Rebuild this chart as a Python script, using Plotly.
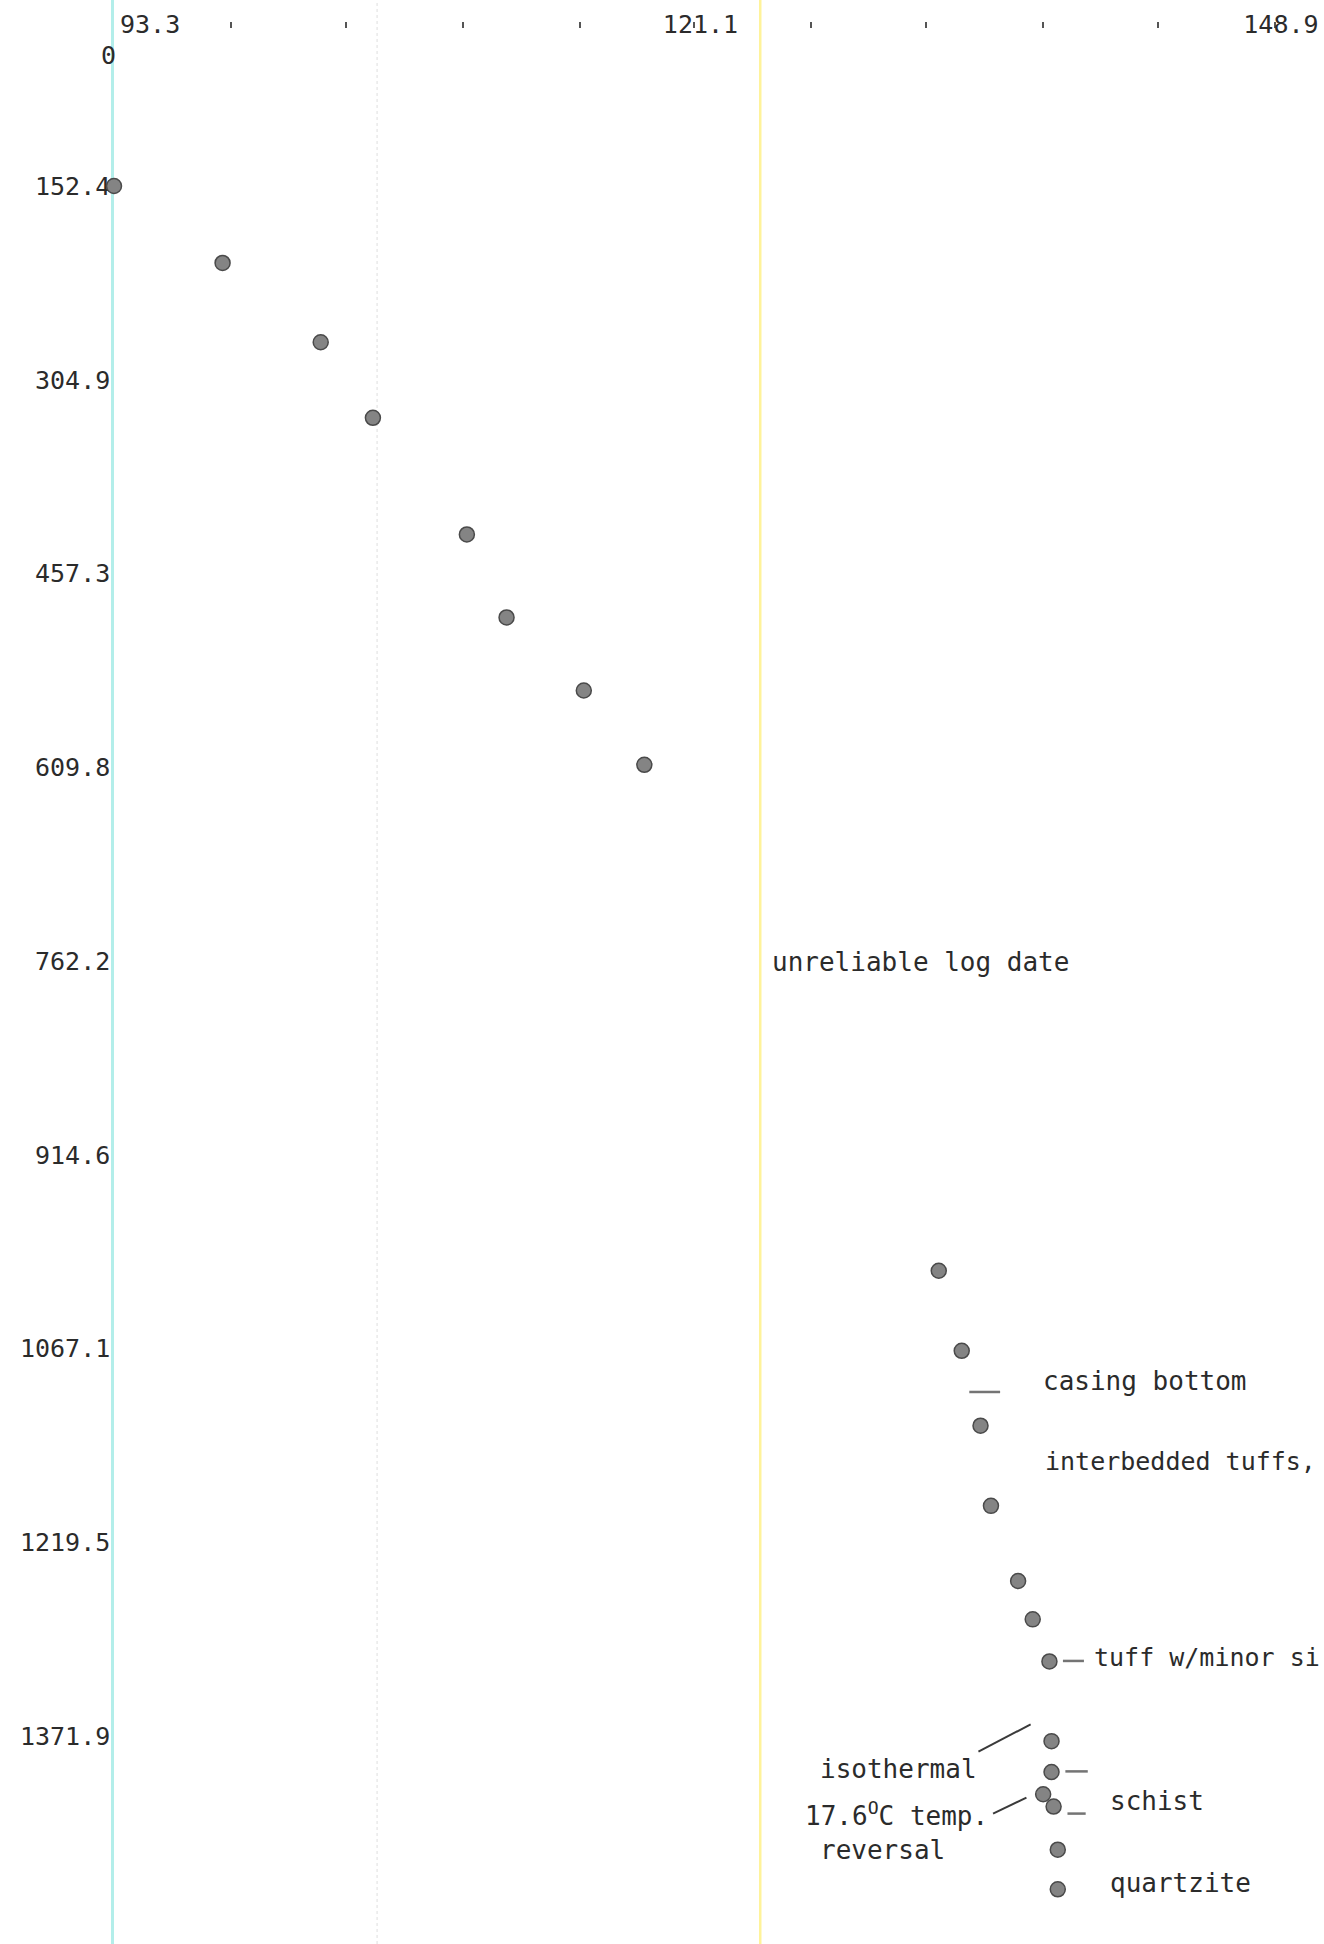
import plotly.graph_objects as go

# ---- data (temperature in deg C vs depth in m) ----
temp_c = [93.3, 98.5, 103.2, 105.7, 110.2, 112.1, 115.8, 118.7,
          132.8, 133.9, 134.8, 135.3, 136.6, 137.3, 138.1, 138.2,
          138.2, 137.8, 138.3, 138.5, 138.5]
depth_m = [152.4, 212.9, 275.3, 334.8, 426.5, 491.8, 549.3, 607.8,
           1005.8, 1068.8, 1127.7, 1190.8, 1249.9, 1280.1, 1313.2, 1375.9,
           1400.2, 1417.7, 1427.4, 1461.3, 1492.5]

x_tick_vals = [93.3, 121.1, 148.9]
x_tick_text = ["\u00a0\u00a0\u00a0\u00a093.3", "121.1", "148.9"]
x_minor_vals = [98.9, 104.4, 110.0, 115.6, 126.7, 132.2, 137.8, 143.3]
y_tick_vals = [152.4, 304.9, 457.3, 609.8, 762.2, 914.6, 1067.1, 1219.5, 1371.9, 1524.4]
y_tick_text = ["152.4", "304.9", "457.3", "609.8", "762.2", "914.6",
               "1067.1", "1219.5", "1371.9", "1524.4"]

note_text = ["unreliable log date", "casing bottom", "interbedded tuffs,",
             "tuff w/minor si", "isothermal", "17.6<sup>O</sup>C temp.",
             "reversal", "schist", "quartzite"]
note_temp = [124.7, 137.7, 137.8, 140.15, 127.0, 126.3, 127.0, 140.9, 140.9]
note_depth = [762.9, 1092.5, 1155.9, 1310.1, 1397.8, 1433.0, 1461.2, 1423.2, 1487.5]
note_size = [26, 26, 25, 25, 26, 26, 26, 26, 26]

dash_temp = [135.0, 139.25, 139.4, 139.4]
dash_depth = [1101.2, 1312.8, 1399.7, 1432.9]
dash_size = [22, 15, 16, 13]

iso_line_temp = [134.7, 137.2]
iso_line_depth = [1384.2, 1362.7]
rev_line_temp = [135.4, 137.0]
rev_line_depth = [1433.0, 1420.3]

scan_line_temp = [105.9, 124.25]

W, H = 1324, 1944
FONT = "DejaVu Sans Mono"
INK = "#2b2b2b"

fig = go.Figure()

# leader lines
for lx, ly in [(iso_line_temp, iso_line_depth), (rev_line_temp, rev_line_depth)]:
    fig.add_trace(go.Scatter(x=lx, y=ly, mode="lines",
                             line=dict(color="#3a3a3a", width=2),
                             hoverinfo="skip", showlegend=False, cliponaxis=False))

# depth marker dashes
fig.add_trace(go.Scatter(x=dash_temp, y=dash_depth, mode="markers",
                         marker=dict(symbol="line-ew", size=dash_size,
                                     line=dict(color="#3a3a3a", width=2.5)),
                         hoverinfo="skip", showlegend=False, cliponaxis=False))

# measured temperatures
fig.add_trace(go.Scatter(x=temp_c, y=depth_m, mode="markers",
                         marker=dict(size=15, color="#848484",
                                     line=dict(color="#4a4a4a", width=1.5)),
                         showlegend=False, cliponaxis=False))

# faint scan lines
fig.add_vline(x=scan_line_temp[0], line=dict(color="#dedede", width=1, dash="dot"), layer="below")
fig.add_vline(x=scan_line_temp[1], line=dict(color="#fff39a", width=2.5), layer="below")

for t, tx, ty, ts in zip(note_text, note_temp, note_depth, note_size):
    fig.add_annotation(x=tx, y=ty, text=t, showarrow=False, xanchor="left",
                       yanchor="middle", font=dict(family=FONT, size=ts, color=INK))

fig.add_annotation(x=93.3, xref="x", y=1 - 56 / H, yref="paper", text="0",
                   showarrow=False, xanchor="right", yanchor="middle", xshift=4,
                   font=dict(family=FONT, size=25, color=INK))

fig.update_layout(
    width=W, height=H,
    margin=dict(l=114, r=0, t=0, b=0),
    paper_bgcolor="white", plot_bgcolor="white",
    showlegend=False,
    xaxis=dict(
        range=[93.3, 151.25], side="top", anchor="free", position=1 - 21 / H,
        tickmode="array", tickvals=x_tick_vals, ticktext=x_tick_text,
        ticks="inside", ticklen=6, tickwidth=2, tickcolor="#555555",
        ticklabelposition="inside", ticklabeloverflow="allow",
        ticklabelstandoff=-11, ticklabelshift=6,
        tickfont=dict(family=FONT, size=25, color=INK),
        minor=dict(tickmode="array", tickvals=x_minor_vals, ticks="inside",
                   ticklen=6, tickwidth=2, tickcolor="#555555", showgrid=False),
        showgrid=False, zeroline=False, showline=False,
    ),
    yaxis=dict(
        range=[1535.5, 6.06],
        tickmode="array", tickvals=y_tick_vals, ticktext=y_tick_text,
        ticks="", ticklabelstandoff=-4,
        tickfont=dict(family=FONT, size=25, color=INK),
        showgrid=False, zeroline=False,
        showline=True, linecolor="#b3eeea", linewidth=2.5, layer="below traces",
    ),
)

fig.write_html("out.html", config={"displayModeBar": False},
               post_script="document.body.style.margin='0';")
